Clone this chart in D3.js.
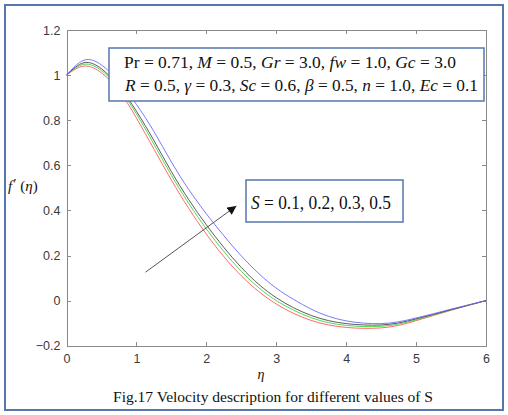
<!DOCTYPE html>
<meta charset="utf-8">
<style>
body { margin: 0; background: #fff; }
.ax path, .ax line { stroke: #8a8a8a; shape-rendering: crispEdges; }
.serif { font-family: "Liberation Serif", "Times New Roman", serif; fill: #111; }
</style>
<body>
<script src="https://d3js.org/d3.v7.min.js"></script>
<script>

// data
var eta = [0, 0.25, 0.5, 0.75, 1, 1.25, 1.5, 1.75, 2, 2.25, 2.5, 2.75, 3,
           3.25, 3.5, 3.75, 4, 4.25, 4.5, 4.75, 5, 5.25, 5.5, 5.75, 6];
var fRed   = [1, 1.040, 1.010, 0.930, 0.810, 0.672, 0.535, 0.408, 0.295, 0.195, 0.110, 0.040, -0.015,
              -0.057, -0.088, -0.108, -0.119, -0.123, -0.121, -0.110, -0.089, -0.066, -0.043, -0.021, 0];
var fGreen = [1, 1.048, 1.020, 0.942, 0.828, 0.694, 0.556, 0.430, 0.318, 0.218, 0.130, 0.057, 0.000,
              -0.043, -0.076, -0.098, -0.110, -0.115, -0.114, -0.104, -0.085, -0.063, -0.041, -0.020, 0];
var fBlack = [1, 1.055, 1.028, 0.950, 0.840, 0.710, 0.572, 0.447, 0.336, 0.236, 0.147, 0.072, 0.013,
              -0.032, -0.066, -0.089, -0.102, -0.108, -0.108, -0.099, -0.081, -0.061, -0.040, -0.020, 0];
var fBlue  = [1, 1.066, 1.045, 0.970, 0.870, 0.750, 0.615, 0.492, 0.385, 0.288, 0.198, 0.120, 0.055,
              0.005, -0.038, -0.070, -0.090, -0.100, -0.102, -0.094, -0.077, -0.058, -0.038, -0.019, 0];
var seriesColors = ["#ff5a5a", "#3fd23f", "#4a4a4a", "#6a6aff"];
var xTicks = [0, 1, 2, 3, 4, 5, 6];
var yTicks = [-0.2, 0, 0.2, 0.4, 0.6, 0.8, 1, 1.2];

var W = 508, H = 415;
var svg = d3.select("body").append("svg")
    .attr("width", W).attr("height", H);

// outer blue frame
svg.append("rect")
    .attr("x", 5).attr("y", 5).attr("width", 498).attr("height", 405)
    .attr("fill", "#fff").attr("stroke", "#5677ad").attr("stroke-width", 2);

var x = d3.scaleLinear().domain([0, 6]).range([66.5, 486]);
var y = d3.scaleLinear().domain([-0.2, 1.2]).range([345.7, 30]);

// axes (box with inward ticks)
svg.append("g").attr("class", "ax")
    .attr("transform", "translate(0," + y(-0.2) + ")")
    .call(d3.axisBottom(x).tickValues(xTicks).tickFormat(d3.format("d"))
        .tickSizeInner(-4).tickSizeOuter(0).tickPadding(8));
svg.append("g").attr("class", "ax")
    .attr("transform", "translate(" + x(0) + ",0)")
    .call(d3.axisLeft(y).tickValues(yTicks).tickFormat(function(d) { return d3.format("")(+d.toFixed(1)); })
        .tickSizeInner(-4).tickSizeOuter(0).tickPadding(6));
svg.append("g").attr("class", "ax")
    .attr("transform", "translate(0," + y(1.2) + ")")
    .call(d3.axisTop(x).tickValues(xTicks).tickFormat("").tickSizeInner(-4).tickSizeOuter(0));
svg.append("g").attr("class", "ax")
    .attr("transform", "translate(" + x(6) + ",0)")
    .call(d3.axisRight(y).tickValues(yTicks).tickFormat("").tickSizeInner(-4).tickSizeOuter(0));
svg.selectAll(".ax").attr("font-size", 12.5).attr("font-family", "'Liberation Sans', Arial, sans-serif");
svg.selectAll(".ax .tick text").attr("fill", "#3a3a3a");

// curves
var line = d3.line()
    .x(function(d) { return x(d[0]); })
    .y(function(d) { return y(d[1]); })
    .curve(d3.curveNatural);
[fRed, fGreen, fBlack, fBlue].forEach(function(vals, i) {
    svg.append("path")
        .datum(eta.map(function(e, j) { return [e, vals[j]]; }))
        .attr("fill", "none")
        .attr("stroke", seriesColors[i])
        .attr("stroke-width", 0.9)
        .attr("d", line);
});

// parameter box
svg.append("rect")
    .attr("x", 109).attr("y", 48).attr("width", 375).attr("height", 53)
    .attr("fill", "#fff").attr("stroke", "#5677ad").attr("stroke-width", 1.5);

function richText(px, py, size, parts, len) {
    var t = svg.append("text").attr("class", "serif").attr("x", px).attr("y", py)
        .attr("font-size", size);
    if (len) t.attr("textLength", len).attr("lengthAdjust", "spacingAndGlyphs");
    parts.forEach(function(p) {
        t.append("tspan").text(p[0]).attr("font-style", p[1] ? "italic" : "normal");
    });
}
richText(124, 68, 16, [["Pr = 0.71, ", 0], ["M", 1], [" = 0.5, ", 0], ["Gr", 1], [" = 3.0, ", 0],
    ["fw", 1], [" = 1.0, ", 0], ["Gc", 1], [" = 3.0", 0]], 332);
richText(125, 91, 16, [["R", 1], [" = 0.5, ", 0], ["\u03b3", 1], [" = 0.3, ", 0], ["Sc", 1], [" = 0.6, ", 0],
    ["\u03b2", 1], [" = 0.5, ", 0], ["n", 1], [" = 1.0, ", 0], ["Ec", 1], [" = 0.1", 0]], 353);

// S box
svg.append("rect")
    .attr("x", 246).attr("y", 180).attr("width", 157).attr("height", 42)
    .attr("fill", "#fff").attr("stroke", "#5677ad").attr("stroke-width", 1.5);
richText(251, 209, 19, [["S", 1], [" = 0.1, 0.2, 0.3, 0.5", 0]], 140);

// arrow
svg.append("defs").append("marker")
    .attr("id", "ah").attr("viewBox", "0 0 10 10").attr("refX", 10).attr("refY", 5)
    .attr("markerWidth", 10).attr("markerHeight", 9).attr("markerUnits", "userSpaceOnUse")
    .attr("orient", "auto")
    .append("path").attr("d", "M0,0 L10,5 L0,10 z").attr("fill", "#111");
svg.append("line")
    .attr("x1", x(1.13)).attr("y1", y(0.126))
    .attr("x2", x(2.43)).attr("y2", y(0.42))
    .attr("stroke", "#555").attr("stroke-width", 1)
    .attr("marker-end", "url(#ah)");

// axis labels
svg.append("text").attr("class", "serif").attr("x", 261).attr("y", 379).attr("font-size", 14)
    .attr("font-style", "italic").attr("text-anchor", "middle").attr("fill", "#333").text("\u03b7");
var yl = svg.append("text").attr("class", "serif").attr("x", 8).attr("y", 191).attr("font-size", 15);
yl.append("tspan").attr("font-style", "italic").text("f");
yl.append("tspan").attr("dx", 1).attr("dy", -2).text("\u2032");
yl.append("tspan").attr("dy", 2).text(" (");
yl.append("tspan").attr("font-style", "italic").text("\u03b7");
yl.append("tspan").text(")");

// caption
svg.append("text").attr("class", "serif").attr("x", 113).attr("y", 402).attr("font-size", 14)
    .attr("textLength", 320).attr("lengthAdjust", "spacingAndGlyphs")
    .text("Fig.17 Velocity description for different values of S");

</script>
</body>
